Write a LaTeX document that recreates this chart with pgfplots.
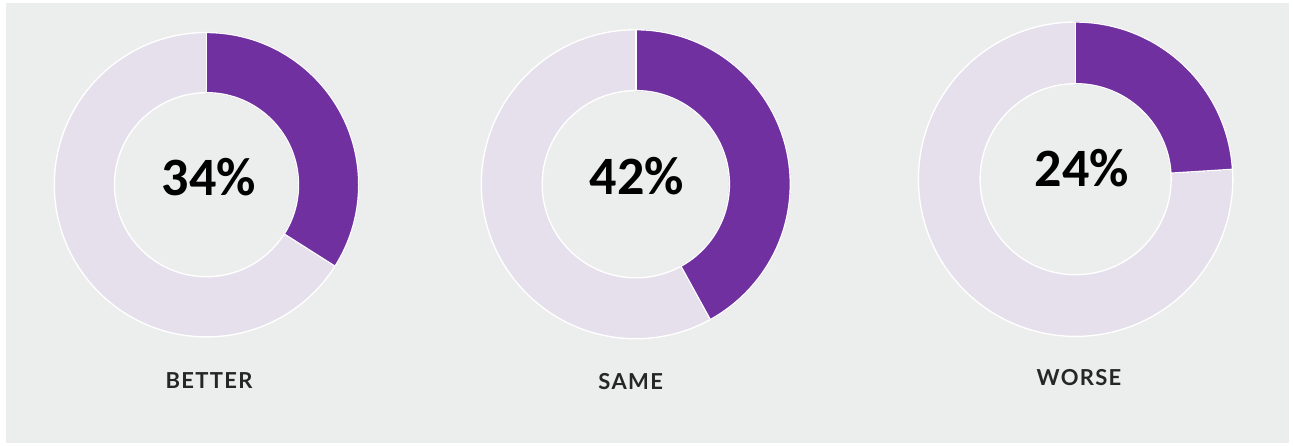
\documentclass[border=0pt]{standalone}
\usepackage{pgfplots}
\pgfplotsset{compat=1.18}
\usepackage{pgfplotstable}
\usepackage{fontspec}
\newfontfamily\carlito{Carlito}
\newfontfamily\lato[LetterSpace=6]{Lato}
\definecolor{bgc}{HTML}{ECEDED}
\definecolor{purp}{HTML}{7030A0}
\definecolor{lpurp}{HTML}{E6DFEC}
\definecolor{txt}{HTML}{262626}
% x, y: centre (pixels, y from bottom); ro, ri: radii (pixels); v: share in percent
\pgfplotstableread{
x      y      ro     ri    v
206.5  260.3  152.2  92.0  34
635.8  260.8  154.5  93.6  42
1075.6 265.8  157.2  95.5  24
}\donuts
\begin{document}
\begin{tikzpicture}
\fill[white] (0,0) rectangle (646.5pt,222.5pt);
\fill[bgc] (3pt,1pt) rectangle (644.5pt,221pt);
\begin{axis}[
  width=646.5pt, height=222.5pt, scale only axis,
  xmin=0, xmax=1293, ymin=0, ymax=445,
  hide axis, clip=false,
]
\addplot[
  scatter, only marks, mark=*, mark size=0pt,
  visualization depends on={\thisrow{v} \as \val},
  visualization depends on={\thisrow{ro} \as \ro},
  visualization depends on={\thisrow{ri} \as \ri},
  scatter/@pre marker code/.code={
    \pgfmathsetmacro\R{0.5*\ro}
    \pgfmathsetmacro\r{0.5*\ri}
    \pgfmathsetmacro\ang{90-3.6*\val}
    \fill[lpurp, even odd rule] (0,0) circle[radius=\R pt] (0,0) circle[radius=\r pt];
    \fill[purp] (90:\r pt) -- (90:\R pt) arc[start angle=90, end angle=\ang, radius=\R pt]
      -- (\ang:\r pt) arc[start angle=\ang, end angle=90, radius=\r pt] -- cycle;
    \draw[white, line width=0.7pt] (0,0) circle[radius=\R pt];
    \draw[white, line width=0.7pt] (0,0) circle[radius=\r pt];
    \draw[white, line width=0.7pt] (90:\r pt) -- (90:\R pt);
    \draw[white, line width=0.7pt] (\ang:\r pt) -- (\ang:\R pt);
  },
  scatter/@post marker code/.code={},
] table[x=x, y=y] \donuts;
\node[inner sep=0pt, font=\carlito\bfseries\fontsize{27}{30}\selectfont] at (axis cs:208.7,268) {34\%};
\node[inner sep=0pt, font=\carlito\bfseries\fontsize{27}{30}\selectfont] at (axis cs:636.7,269) {42\%};
\node[inner sep=0pt, font=\carlito\bfseries\fontsize{27}{30}\selectfont] at (axis cs:1081.7,277) {24\%};
\node[inner sep=0pt, text=txt, font=\lato\bfseries\fontsize{11}{13}\selectfont] at (axis cs:209,64.5) {BETTER};
\node[inner sep=0pt, text=txt, font=\lato\bfseries\fontsize{11}{13}\selectfont] at (axis cs:630.7,63.5) {SAME};
\node[inner sep=0pt, text=txt, font=\lato\bfseries\fontsize{11}{13}\selectfont] at (axis cs:1079,67) {WORSE};
\end{axis}
\end{tikzpicture}
\end{document}
